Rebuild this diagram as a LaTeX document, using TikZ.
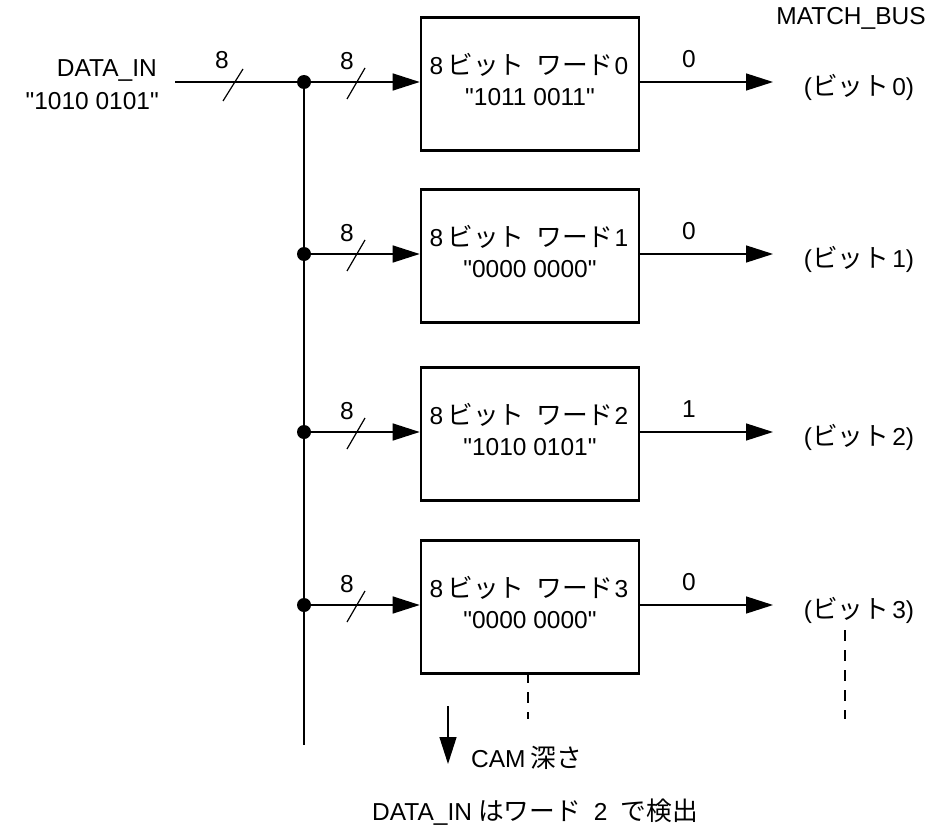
\documentclass[tikz,border=0pt]{standalone}
\usepackage{fontspec}
\setmainfont{Liberation Sans}
\newfontfamily\jp{Noto Sans CJK JP}[Scale=1.05]
\usetikzlibrary{arrows.meta}
% straight double quote, taken as a glyph so that no input mapping curls it
\newcommand\qt{\XeTeXglyph\XeTeXglyphindex "quotedbl"\relax}
\tikzset{
  wire/.style={line width=1.4pt},
  busarrow/.style={wire, -{Triangle[length=27pt,width=17pt]}},
  wordbox/.style={draw, line width=2.6pt, minimum width=218pt, minimum height=133pt, inner sep=0pt},
  txt/.style={font=\fontsize{24.5}{28}\selectfont, inner sep=0pt},
  tap/.style={circle, fill=black, minimum size=14pt, inner sep=0pt},
  slash/.style={line width=1.2pt},
  guide/.style={line width=1.1pt, dash pattern=on 11pt off 9pt}
}
\begin{document}
\begin{tikzpicture}[x=1pt,y=-1pt]
\useasboundingbox (0,0) rectangle (947,824);

% input label
\node[txt, anchor=east] (din) at (157,71) {DATA\_IN};
\node[txt, anchor=east] (dval) at (159,101) {\qt1010 0101\qt};
\node[txt] (mbus) at (851,18) {MATCH\_BUS};

% four CAM words
\foreach \i/\y/\v/\m in {0/82/1011 0011/0, 1/254/0000 0000/0, 2/432/1010 0101/1, 3/605/0000 0000/0}{
  \node[wordbox] (w\i) at (530,\y+2) {};
  \node[txt] (wt\i) at (529,\y-17) {8\hspace{4pt}{\jp ビット}\hspace{12pt}{\jp ワード}\hspace{1pt}\i};
  \node[txt] (wv\i) at (530,\y+15) {\qt\v\qt};
  \node[tap] (t\i) at (304,\y) {};
  \coordinate (in\i) at (w\i.west |- 0,\y);
  \coordinate (out\i) at (w\i.east |- 0,\y);
  \node[txt] (b\i) at (859,\y+5) {({\jp ビット}\hspace{3pt}\i)};
  \coordinate (end\i) at (773,\y);
  \draw[busarrow] (t\i) -- (in\i);
  \draw[busarrow] (out\i) -- (end\i);
  \node[txt] (m\i) at (689,\y-23) {\m};
  \draw[slash] (347,\y+17) -- (365,\y-14);
  \node[txt] (n\i) at (347,\y-21) {8};
}

% input bus and vertical distribution line
\coordinate (inL) at (175,82);
\coordinate (busend) at (304,745);
\draw[wire] (inL) -- (t0);
\draw[wire] (t0) -- (busend);
\draw[slash] (223,101) -- (243,69);
\node[txt] (n8) at (222,60) {8};

% continuation marks
\coordinate (d1a) at (528,672);
\coordinate (d1b) at (528,719);
\coordinate (d2a) at (845,630);
\coordinate (d2b) at (845,719);
\draw[guide] (d1a) -- (d1b);
\draw[guide] (d2a) -- (d2b);

% depth arrow
\coordinate (da) at (448,706);
\coordinate (db) at (448,764);
\draw[busarrow] (da) -- (db);
\node[txt, anchor=west] (cam) at (471,758) {CAM\hspace{5pt}{\jp 深さ}};

\node[txt, anchor=west] (res) at (372,812) {DATA\_IN\hspace{6pt}{\jp はワード}\hspace{13pt}2\hspace{13pt}{\jp で検出}};
\end{tikzpicture}
\end{document}
